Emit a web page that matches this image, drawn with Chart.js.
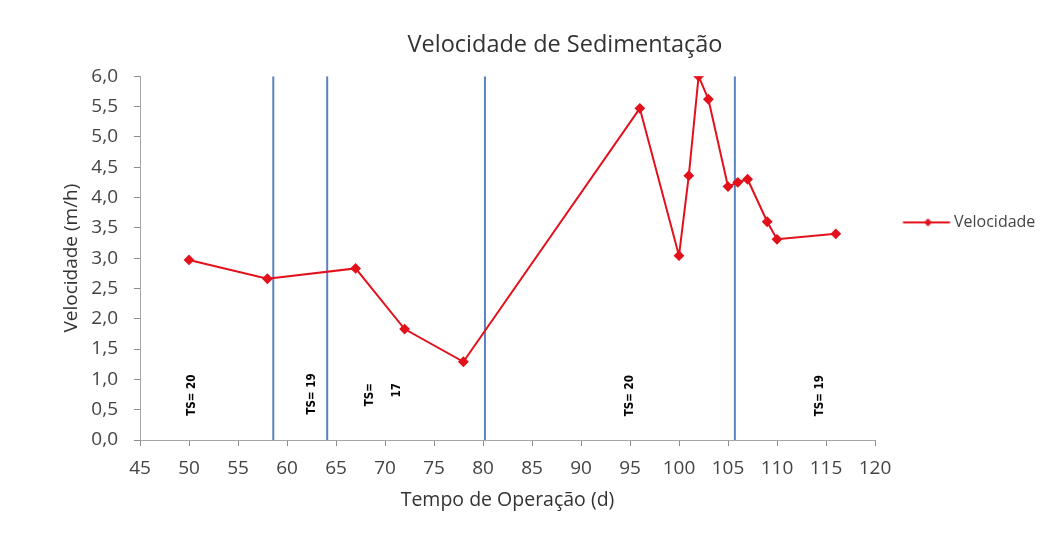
<!DOCTYPE html>
<html>
<head>
<meta charset="utf-8">
<script src="https://cdn.jsdelivr.net/npm/chart.js@4.4.1/dist/chart.umd.min.js"></script>
<style>
html,body{margin:0;padding:0;background:#fff;}
#wrap{width:1040px;height:536px;position:relative;}
</style>
</head>
<body>
<div id="wrap"><canvas id="c" width="1040" height="536"></canvas></div>
<script>
// Data
const days = [50, 58, 67, 72, 78, 96, 100, 101, 102, 103, 105, 106, 107, 109, 110, 116];
const velocidade = [2.97, 2.66, 2.83, 1.83, 1.29, 5.47, 3.04, 4.36, 6.0, 5.62, 4.18, 4.25, 4.30, 3.60, 3.31, 3.40];
const phaseLinesX = [58.6, 64.1, 80.2, 105.7];
const phaseLabelText = ["TS= 20", "TS= 19", "TS=", "17", "TS= 20", "TS= 19"];
const phaseLabelX = [50.3, 62.6, 68.5, 71.2, 95.0, 114.4];
const phaseLabelY = [0.74, 0.76, 0.94, 0.94, 0.73, 0.73];
const phaseLabelAlign = ["center", "center", "right", "right", "center", "center"];
const xTicks = [45, 50, 55, 60, 65, 70, 75, 80, 85, 90, 95, 100, 105, 110, 115, 120];
const yTicks = [0, 0.5, 1, 1.5, 2, 2.5, 3, 3.5, 4, 4.5, 5, 5.5, 6];

const RED = '#e3111b';
const BLUE = '#5a82bd';
const FONT = "'Open Sans', 'DejaVu Sans', sans-serif";

const datasets = [{
  label: 'Velocidade',
  data: days.map((d, i) => ({x: d, y: velocidade[i]})),
  borderColor: RED,
  backgroundColor: RED,
  borderWidth: 2,
  pointStyle: 'rectRot',
  pointRadius: 4,
  pointHoverRadius: 4,
  showLine: true,
  tension: 0,
  order: 0
}];
phaseLinesX.forEach((x, i) => {
  datasets.push({
    label: 'fase' + i,
    data: [{x: x, y: 0}, {x: x, y: 6}],
    borderColor: BLUE,
    borderWidth: 2,
    pointRadius: 0,
    showLine: true,
    order: 1
  });
});

// legend marker image: line with diamond
const legImg = document.createElement('canvas');
legImg.width = 56; legImg.height = 10;
(function(){
  const g = legImg.getContext('2d');
  g.strokeStyle = RED; g.lineWidth = 2;
  g.beginPath(); g.moveTo(6.5, 5); g.lineTo(53.5, 5); g.stroke();
  g.fillStyle = RED;
  const c = 31.5;
  g.beginPath(); g.moveTo(c, 1); g.lineTo(c + 4, 5); g.lineTo(c, 9); g.lineTo(c - 4, 5); g.closePath(); g.fill();
})();

const labelPlugin = {
  id: 'phaseLabels',
  afterDatasetsDraw(chart) {
    const {ctx, scales: {x, y}} = chart;
    ctx.save();
    ctx.fillStyle = '#000';
    ctx.font = "bold 11.5px 'Liberation Sans Narrow', 'DejaVu Sans Condensed', sans-serif";
    ctx.textBaseline = 'middle';
    phaseLabelText.forEach((t, i) => {
      const px = x.getPixelForValue(phaseLabelX[i]);
      const py = y.getPixelForValue(phaseLabelY[i]);
      ctx.save();
      ctx.translate(px, py);
      ctx.rotate(-Math.PI / 2);
      ctx.textAlign = phaseLabelAlign[i];
      ctx.fillText(t, 0, 0);
      ctx.restore();
    });
    ctx.restore();
  }
};

new Chart(document.getElementById('c'), {
  type: 'scatter',
  data: {datasets},
  plugins: [labelPlugin],
  options: {
    responsive: false,
    animation: false,
    layout: {padding: {left: 90, right: 0, top: 0, bottom: 21}},
    plugins: {
      title: {
        display: true,
        text: 'Velocidade de Sedimentação',
        color: '#333',
        font: {family: FONT, size: 23.5, weight: 'normal'},
        padding: {top: 31, bottom: 17}
      },
      legend: {
        position: 'right',
        align: 'start',
        maxWidth: 165,
        title: {display: true, text: ' ', font: {size: 12}, padding: {top: 172, bottom: 0}},
        labels: {
          usePointStyle: true,
          pointStyleWidth: 43,
          color: '#444',
          font: {family: FONT, size: 16},
          generateLabels: chart => [{
            text: 'Velocidade',
            pointStyle: legImg,
            fillStyle: RED,
            strokeStyle: RED,
            fontColor: '#444',
            lineWidth: 0,
            datasetIndex: 0,
            hidden: false
          }],
          padding: 28
        }
      },
      tooltip: {enabled: false}
    },
    scales: {
      x: {
        type: 'linear',
        min: 45, max: 120,
        afterBuildTicks: s => { s.ticks = xTicks.map(v => ({value: v})); },
        afterFit: s => { s.height = 75; },
        grid: {display: true, drawOnChartArea: false, drawTicks: true, tickLength: 6, tickColor: '#8c8c8c', tickWidth: 1, color: '#8c8c8c'},
        border: {color: '#a6a6a6', width: 1},
        ticks: {color: '#444', font: {family: FONT, size: 19}, padding: 11, maxRotation: 0},
        title: {display: true, text: 'Tempo de Operação (d)', color: '#333', font: {family: FONT, size: 19.5}, padding: {top: 0, bottom: 3}}
      },
      y: {
        type: 'linear',
        min: 0, max: 6,
        afterBuildTicks: s => { s.ticks = yTicks.map(v => ({value: v})); },
        afterFit: s => { s.width = 50; },
        grid: {display: true, drawOnChartArea: false, drawTicks: true, tickLength: 6, tickColor: '#8c8c8c', tickWidth: 1, color: '#8c8c8c'},
        border: {color: '#a6a6a6', width: 1},
        ticks: {color: '#444', font: {family: FONT, size: 19}, padding: 16,
          callback: v => v.toFixed(1).replace('.', ',')},
        title: {display: true, text: 'Velocidade (m/h)', color: '#333', font: {family: FONT, size: 19}, padding: {top: -30, bottom: 0}}
      }
    }
  }
});
</script>
</body>
</html>
